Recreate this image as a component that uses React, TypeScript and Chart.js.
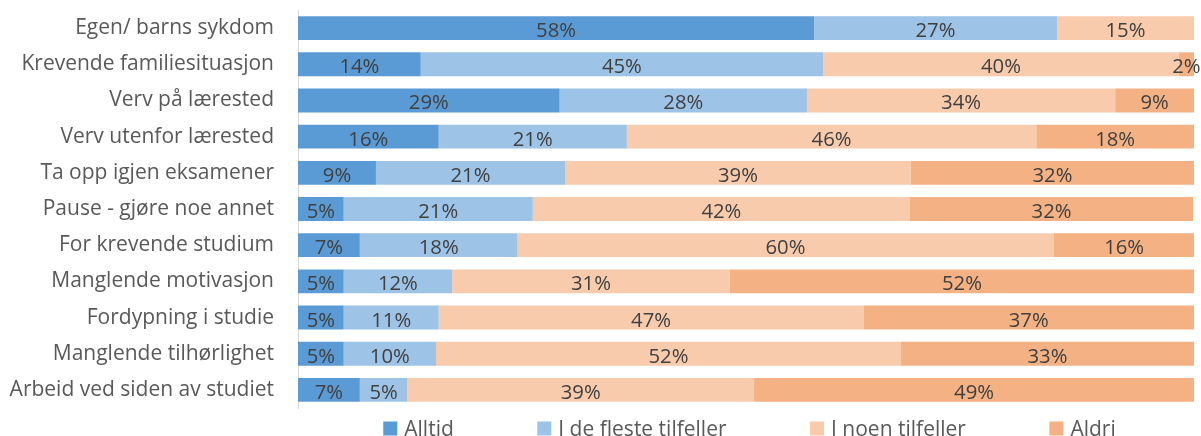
import React, { useEffect, useRef } from "react";
import { Chart, registerables } from "chart.js";

Chart.register(...registerables);

const categories = [
  "Egen/ barns sykdom",
  "Krevende familiesituasjon",
  "Verv på lærested",
  "Verv utenfor lærested",
  "Ta opp igjen eksamener",
  "Pause - gjøre noe annet",
  "For krevende studium",
  "Manglende motivasjon",
  "Fordypning i studie",
  "Manglende tilhørlighet",
  "Arbeid ved siden av studiet",
];

const seriesNames = ["Alltid", "I de fleste tilfeller", "I noen tilfeller", "Aldri"];

const alltid = [57.6, 13.7, 29.2, 15.7, 8.7, 5.1, 6.9, 5.1, 5.1, 5.1, 6.9];
const deFleste = [27.1, 44.9, 27.6, 21.0, 21.1, 21.1, 17.6, 12.1, 10.6, 10.3, 5.3];
const iNoen = [15.3, 39.7, 34.4, 45.7, 38.6, 42.1, 59.8, 31.0, 47.4, 51.9, 38.7];
const aldri = [0, 1.7, 8.8, 17.6, 31.6, 31.6, 15.8, 51.8, 36.9, 32.7, 49.1];

const colors = ["#5B9BD5", "#9DC3E6", "#F8CBAD", "#F4B183"];

const FONT = "'Open Sans', 'DejaVu Sans', sans-serif";

const valueLabels = {
  id: "valueLabels",
  afterDatasetsDraw(chart: any) {
    const ctx = chart.ctx;
    ctx.save();
    ctx.font = `20.3px ${FONT}`;
    ctx.fillStyle = "#404040";
    ctx.textAlign = "center";
    ctx.textBaseline = "alphabetic";
    chart.data.datasets.forEach((ds: any, di: number) => {
      const meta = chart.getDatasetMeta(di);
      meta.data.forEach((el: any, i: number) => {
        const v = ds.data[i];
        if (!v) return;
        const { x, base, y } = el.getProps(["x", "base", "y"], true);
        ctx.fillText(Math.round(v) + "%", (x + base) / 2, y + 9);
      });
    });
    ctx.restore();
  },
};

const customLegend = {
  id: "customLegend",
  afterDraw(chart: any) {
    const ctx = chart.ctx;
    ctx.save();
    ctx.font = `21px ${FONT}`;
    const names = chart.data.datasets.map((d: any) => d.label);
    const box = 14;
    const gap = 7;
    const spacing = 83.5;
    const widths = names.map((n: string) => ctx.measureText(n).width);
    const total =
      widths.reduce((s: number, w: number) => s + box + gap + w, 0) + spacing * (names.length - 1);
    let x = 749.5 - total / 2;
    names.forEach((n: string, i: number) => {
      ctx.fillStyle = chart.data.datasets[i].backgroundColor;
      ctx.fillRect(x, 421.5, box, box);
      ctx.fillStyle = "#595959";
      ctx.textAlign = "left";
      ctx.textBaseline = "alphabetic";
      ctx.fillText(n, x + box + gap, 435.5);
      x += box + gap + widths[i] + spacing;
    });
    ctx.restore();
  },
};

export default function App() {
  const ref = useRef<HTMLCanvasElement | null>(null);

  useEffect(() => {
    document.body.style.margin = "0";
    if (!ref.current) return;
    const series = [alltid, deFleste, iNoen, aldri];
    const chart = new Chart(ref.current, {
      type: "bar",
      data: {
        labels: categories,
        datasets: series.map((data, i) => ({
          label: seriesNames[i],
          data,
          backgroundColor: colors[i],
          borderWidth: 0,
          categoryPercentage: 1,
          barPercentage: 0.66,
        })),
      },
      options: {
        indexAxis: "y",
        animation: false,
        responsive: false,
        maintainAspectRatio: false,
        layout: { padding: { top: 10, right: 7, bottom: 28, left: 0 } },
        plugins: {
          legend: { display: false },
          tooltip: { enabled: false },
        },
        scales: {
          x: { stacked: true, min: 0, max: 100, display: false },
          y: {
            stacked: true,
            grid: { display: false, drawTicks: false },
            border: { display: true, color: "#D9D9D9", width: 1 },
            ticks: {
              color: "#595959",
              font: { family: FONT, size: 21 },
              padding: 24,
            },
            afterFit(scale: any) {
              scale.width = 298;
              scale.paddingTop = 0;
              scale.paddingBottom = 0;
            },
          },
        },
      },
      plugins: [valueLabels, customLegend],
    });
    return () => chart.destroy();
  }, []);

  return (
    <div style={{ width: 1201, height: 436 }}>
      <canvas ref={ref} width={1201} height={436} style={{ display: "block" }} />
    </div>
  );
}
